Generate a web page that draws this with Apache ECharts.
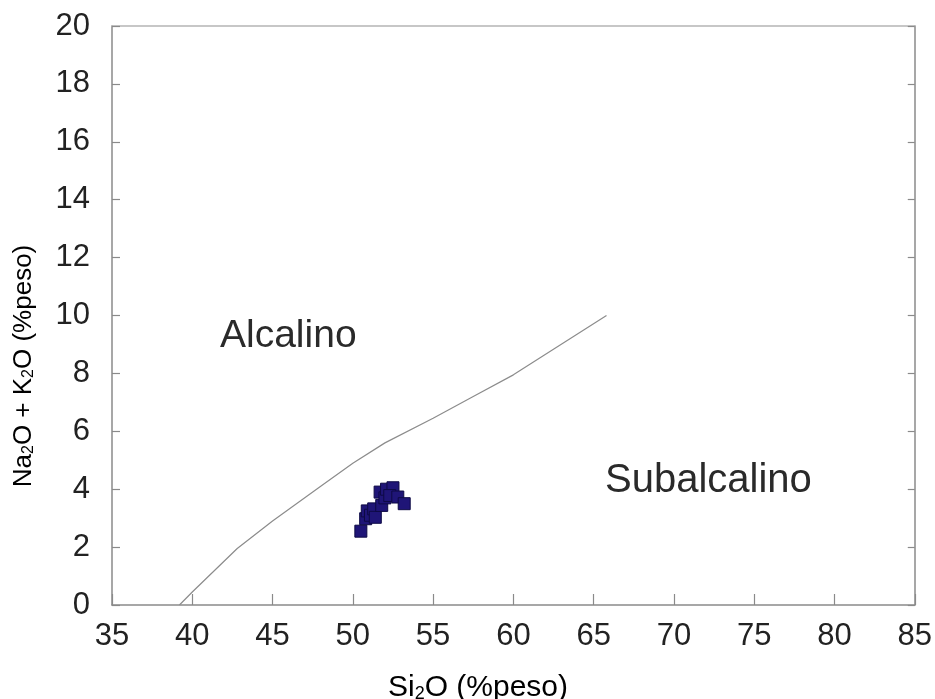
<!DOCTYPE html>
<html>
<head>
<meta charset="utf-8">
<script src="https://cdn.jsdelivr.net/npm/echarts@6/dist/echarts.min.js"></script>
<style>html,body{margin:0;padding:0;background:#fff;}#c{width:935px;height:699px;}</style>
</head>
<body>
<div id="c"></div>
<script>
// Alkaline / subalkaline dividing line (SiO2, Na2O+K2O)
const dividerSiO2 = [39.2, 40.0, 42.8, 45.0, 48.0, 50.0, 52.0, 55.0, 57.5, 60.0, 65.8];
const dividerAlk  = [0.0, 0.45, 1.95, 2.9, 4.1, 4.9, 5.6, 6.45, 7.2, 7.95, 10.0];
// Samples
const sampleSiO2 = [50.5, 50.8, 50.9, 51.1, 51.3, 51.4, 51.8, 51.7, 52.0, 52.1, 52.5, 52.3, 52.8, 53.2];
const sampleAlk  = [2.55, 2.98, 3.25, 3.1, 3.32, 3.03, 3.44, 3.9, 3.7, 4.0, 4.05, 3.78, 3.73, 3.5];
const xTicks = [35, 40, 45, 50, 55, 60, 65, 70, 75, 80, 85];
const yTicks = [0, 2, 4, 6, 8, 10, 12, 14, 16, 18, 20];

const chart = echarts.init(document.getElementById('c'));
const txt = '#222';
const axisCol = '#8a8a8a';
const font = 'Liberation Sans, Arial, sans-serif';
const subRich = function (size) {
  return {
    n: { fontSize: size, fontFamily: font, color: txt },
    s: { fontSize: Math.round(size * 0.6), fontFamily: font, color: txt, verticalAlign: 'bottom' }
  };
};

chart.setOption({
  animation: false,
  backgroundColor: '#fff',
  grid: { left: 112, top: 26, right: 10, bottom: 94 },
  xAxis: [{
    type: 'value', min: xTicks[0], max: xTicks[xTicks.length - 1], interval: 5,
    axisLine: { show: true, onZero: false, lineStyle: { color: axisCol, width: 1.5 } },
    axisTick: { show: true, inside: true, length: 11, lineStyle: { color: axisCol, width: 1.2 } },
    splitLine: { show: false },
    axisLabel: { color: txt, fontSize: 31, fontFamily: font, margin: 16 }
  }, {
    type: 'value', position: 'top', min: xTicks[0], max: xTicks[xTicks.length - 1], interval: 5,
    axisLine: { show: true, onZero: false, lineStyle: { color: '#b5b5b5', width: 1.5 } },
    axisTick: { show: false }, axisLabel: { show: false }, splitLine: { show: false }
  }],
  yAxis: [{
    type: 'value', min: yTicks[0], max: yTicks[yTicks.length - 1], interval: 2,
    axisLine: { show: true, onZero: false, lineStyle: { color: axisCol, width: 1.5 } },
    axisTick: { show: true, inside: true, length: 8, lineStyle: { color: axisCol, width: 1.2 } },
    splitLine: { show: false },
    axisLabel: { color: txt, fontSize: 31, fontFamily: font, margin: 22 }
  }, {
    type: 'value', position: 'right', min: yTicks[0], max: yTicks[yTicks.length - 1], interval: 2,
    axisLine: { show: true, onZero: false, lineStyle: { color: axisCol, width: 1.5 } },
    axisTick: { show: true, inside: true, length: 7, lineStyle: { color: axisCol, width: 1.2 } },
    axisLabel: { show: false }, splitLine: { show: false }
  }],
  series: [{
    type: 'line',
    data: dividerSiO2.map((x, i) => [x, dividerAlk[i]]),
    showSymbol: false, symbol: 'none',
    lineStyle: { color: '#8c8c8c', width: 1.2 },
    z: 2
  }, {
    type: 'scatter',
    data: sampleSiO2.map((x, i) => [x, sampleAlk[i]]),
    symbol: 'rect', symbolSize: 12,
    itemStyle: { color: '#1f1577', borderColor: '#0e0a45', borderWidth: 1, opacity: 1 },
    z: 3
  }],
  graphic: [
    { type: 'text', x: 220, y: 336, style: { text: 'Alcalino', font: '39px ' + font, fill: '#2a2a2a', align: 'left', verticalAlign: 'middle' } },
    { type: 'text', x: 605, y: 481, style: { text: 'Subalcalino', font: '40px ' + font, fill: '#2a2a2a', align: 'left', verticalAlign: 'middle' } },
    { type: 'text', x: 478, y: 688, style: { text: '{n|Si}{s|2}{n|O (%peso)}', rich: subRich(30), align: 'center', verticalAlign: 'middle' } },
    { type: 'text', x: 24, y: 366, rotation: Math.PI / 2, style: { text: '{n|Na}{s|2}{n|O + K}{s|2}{n|O (%peso)}', rich: subRich(26), align: 'center', verticalAlign: 'middle' } }
  ]
});
</script>
</body>
</html>
